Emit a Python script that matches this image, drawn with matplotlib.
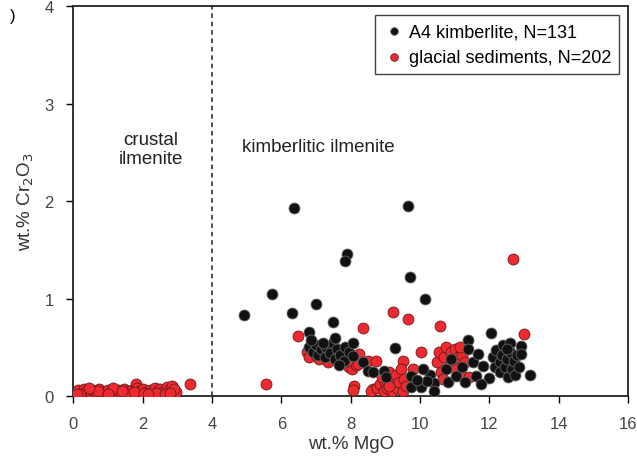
import numpy as np
import matplotlib.pyplot as plt

plt.rcParams['font.family'] = ['Liberation Sans', 'DejaVu Sans']

# A4 kimberlite (black)
kim_mgo = [6.36, 9.65, 7.9, 7.84, 4.91, 5.72, 6.3, 7.0, 6.79, 9.71, 10.14, 7.49, 12.05, 9.28, 13.18,
           6.8, 6.9, 7.0, 7.05, 7.15, 7.25, 7.3, 7.4, 7.5, 7.55, 7.6, 7.7, 7.8, 7.85, 7.95, 8.06, 8.06,
           7.55, 6.85, 7.2, 7.65, 8.35, 8.5, 8.64, 8.96, 9.02,
           9.74, 9.74, 10.03, 10.3, 10.4, 10.4, 10.2, 9.9, 10.1,
           10.75, 10.8, 11.04, 11.2, 11.39, 11.39, 11.53, 11.62, 11.68, 11.82, 12.0, 11.76, 10.9, 11.3,
           12.1, 12.15, 12.2, 12.3, 12.3, 12.35, 12.4, 12.45, 12.5, 12.55, 12.6, 12.6, 12.65, 12.7,
           12.75, 12.8, 12.9, 12.9, 12.85, 12.5]
kim_cr = [1.93, 1.95, 1.46, 1.39, 0.83, 1.05, 0.85, 0.95, 0.66, 1.22, 1.0, 0.76, 0.65, 0.49, 0.22,
          0.5, 0.45, 0.52, 0.42, 0.48, 0.4, 0.5, 0.44, 0.55, 0.38, 0.48, 0.42, 0.36, 0.5, 0.45, 0.55, 0.41,
          0.6, 0.58, 0.55, 0.32, 0.35, 0.26, 0.25, 0.26, 0.2,
          0.21, 0.09, 0.09, 0.22, 0.14, 0.05, 0.16, 0.17, 0.28,
          0.28, 0.15, 0.21, 0.3, 0.58, 0.48, 0.35, 0.21, 0.43, 0.31, 0.19, 0.12, 0.38, 0.15,
          0.4, 0.3, 0.47, 0.35, 0.25, 0.42, 0.52, 0.3, 0.38, 0.2, 0.55, 0.45, 0.28, 0.36,
          0.22, 0.42, 0.51, 0.43, 0.3, 0.48]

# glacial sediments (red)
gla_mgo = [0.05, 0.15, 0.25, 0.3, 0.4, 0.5, 0.55, 0.65, 0.75, 0.85, 0.95, 1.0, 1.1, 1.2, 1.3, 1.35,
           1.45, 1.55, 1.6, 1.7, 1.8, 1.85, 1.9, 2.0, 2.1, 2.2, 2.25, 2.35, 2.45, 2.5, 2.6, 2.7, 2.75,
           2.85, 2.95, 0.2, 0.7, 1.15, 1.5, 1.75, 2.05, 2.4, 2.65, 2.9, 0.1, 0.45, 1.0, 1.4, 2.15, 2.8,
           12.69, 9.22, 9.65, 10.58, 8.35, 13.0, 10.03, 9.5, 6.47, 5.55, 3.38,
           6.75, 6.8, 7.0, 7.1, 6.9, 7.2, 7.35, 7.5, 7.7,
           7.95, 8.05, 8.15, 8.24, 8.5, 8.73, 8.2, 7.9, 8.1, 8.06, 8.65,
           8.6, 8.75, 8.85, 8.95, 9.0, 9.05, 9.1, 9.15, 9.2, 9.25, 9.3, 9.35, 9.4, 9.45, 9.5, 9.55,
           9.1, 8.9, 9.8, 9.6,
           10.5, 10.55, 10.6, 10.7, 10.75, 10.8, 10.9, 10.95, 11.0, 11.05, 11.1, 11.2, 11.25, 11.3,
           11.4, 10.65, 11.15]
gla_cr = [0.04, 0.06, 0.03, 0.07, 0.05, 0.03, 0.06, 0.04, 0.07, 0.03, 0.05, 0.06, 0.04, 0.02, 0.06, 0.04,
          0.07, 0.05, 0.03, 0.06, 0.13, 0.08, 0.05, 0.07, 0.04, 0.06, 0.03, 0.08, 0.05, 0.07, 0.04, 0.09,
          0.06, 0.1, 0.04, 0.02, 0.05, 0.08, 0.02, 0.04, 0.03, 0.03, 0.02, 0.07, 0.02, 0.08, 0.02, 0.05,
          0.02, 0.03,
          1.41, 0.86, 0.79, 0.72, 0.70, 0.64, 0.45, 0.36, 0.62, 0.12, 0.12,
          0.45, 0.4, 0.42, 0.38, 0.52, 0.45, 0.35, 0.4, 0.33,
          0.3, 0.28, 0.32, 0.43, 0.36, 0.36, 0.33, 0.36, 0.1, 0.06, 0.07,
          0.05, 0.08, 0.12, 0.05, 0.15, 0.08, 0.25, 0.18, 0.05, 0.12, 0.22, 0.08, 0.15, 0.28, 0.05, 0.18,
          0.1, 0.2, 0.28, 0.1,
          0.35, 0.45, 0.25, 0.4, 0.5, 0.3, 0.45, 0.35, 0.48, 0.28, 0.4, 0.42, 0.2, 0.35,
          0.2, 0.18, 0.5]

x_ticks = [0, 2, 4, 6, 8, 10, 12, 14, 16]
y_ticks = [0, 1, 2, 3, 4]

fig = plt.figure(figsize=(6.37, 4.64), dpi=100)
ax = fig.add_axes([0.115, 0.144, 0.871, 0.841])

ax.scatter(gla_mgo, gla_cr, s=62, c='#ee2a30', edgecolors='#6a1a1a', linewidths=0.6,
           label='glacial sediments, N=202', zorder=3)
ax.scatter(kim_mgo, kim_cr, s=62, c='#111111', edgecolors='#666666', linewidths=0.6,
           label='A4 kimberlite, N=131', zorder=4)

ax.axvline(4, color='#222222', lw=1.1, ls=(0, (3, 2.5)), zorder=1)

ax.text(2.23, 2.53, 'crustal\nilmenite', ha='center', va='center', fontsize=13.5,
        color='#222222', linespacing=1.15)
ax.text(4.86, 2.56, 'kimberlitic ilmenite', ha='left', va='center', fontsize=13.5, color='#222222')

ax.set_xlim(0, 16)
ax.set_ylim(0, 4)
ax.set_xticks(x_ticks)
ax.set_yticks(y_ticks)
ax.tick_params(direction='out', length=5, width=1, labelsize=12, labelcolor='#444444')
ax.tick_params(axis='x', pad=9)
ax.tick_params(axis='y', pad=9)
for s in ax.spines.values():
    s.set_linewidth(1.3)
    s.set_color('#222222')

ax.set_xlabel('wt.% MgO', fontsize=13.5, color='#333333', labelpad=3)
ax.set_ylabel('wt.% Cr$_2$O$_3$', fontsize=13.5, color='#333333', labelpad=6)

h, l = ax.get_legend_handles_labels()
leg = ax.legend(h[::-1], l[::-1], loc='upper right', fontsize=13, frameon=True, fancybox=False,
                edgecolor='#111111', handletextpad=0.2, borderpad=0.45, labelspacing=0.5,
                handlelength=1.2, borderaxespad=0.5, markerscale=0.7)
leg.get_frame().set_linewidth(1.0)

fig.text(0.015, 0.955, ')', fontsize=12)

plt.savefig('out.png', dpi=100)
